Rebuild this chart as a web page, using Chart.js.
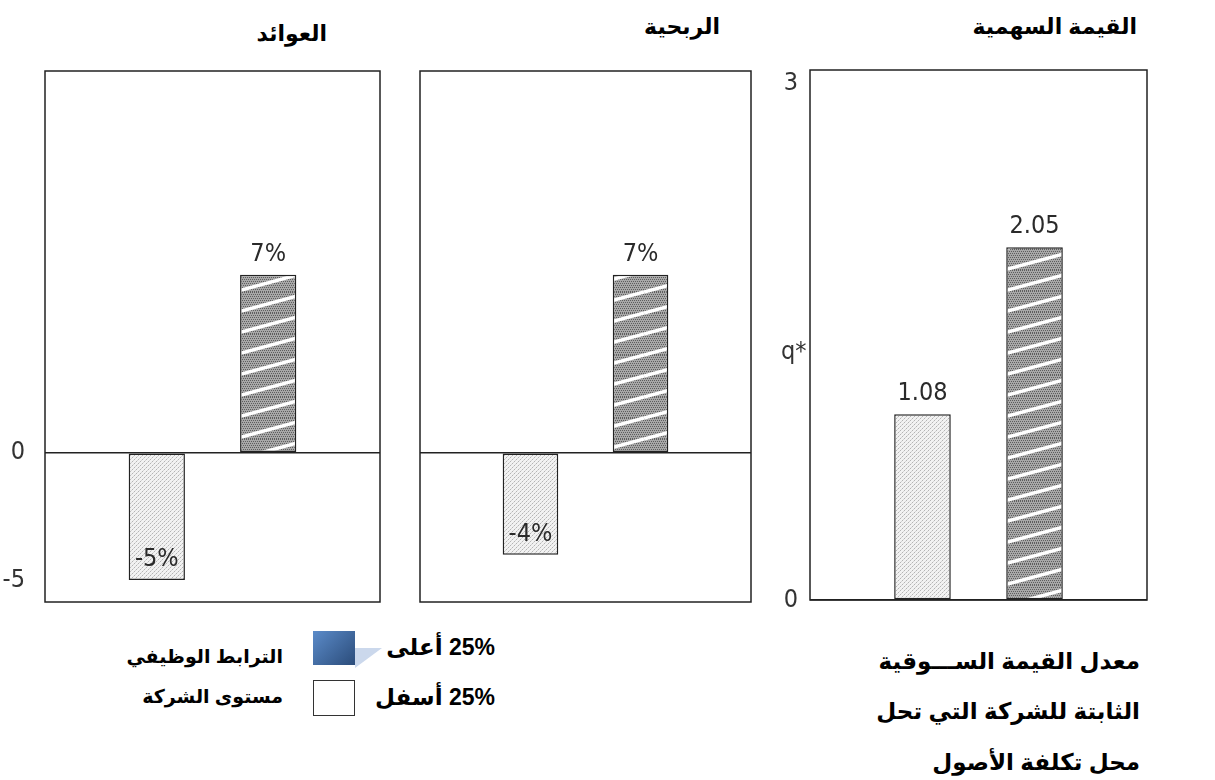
<!DOCTYPE html>
<html lang="ar">
<head>
<meta charset="utf-8">
<script src="https://cdn.jsdelivr.net/npm/chart.js@4/dist/chart.umd.min.js"></script>
<style>
  body { margin: 0; width: 1215px; height: 780px; background: #fff; position: relative; overflow: hidden;
         font-family: "Liberation Sans", "DejaVu Sans", sans-serif; }
  canvas { position: absolute; }
  .t { position: absolute; font-weight: bold; color: #000; direction: rtl; white-space: nowrap; line-height: 1; }
  .title { font-size: 22px; }
  .note { font-size: 19px; }
  .side { font-size: 23px; }
  .leg { font-size: 23px; }
  .box { position: absolute; width: 42px; height: 34px; }
  .qstar { position: absolute; left: 781px; top: 336px; font: 25px "Liberation Sans Narrow", "DejaVu Sans Condensed", sans-serif; color: #333; }
</style>
</head>
<body>
<canvas id="c0" width="390" height="551" style="left:0;top:61px"></canvas>
<canvas id="c1" width="351" height="551" style="left:410px;top:61px"></canvas>
<canvas id="c2" width="387" height="550" style="left:770px;top:60px"></canvas>

<div class="t title" style="right:888px;top:23px">العوائد</div>
<div class="t title" style="right:495px;top:16px">الربحية</div>
<div class="t title" style="right:78px;top:16px">القيمة السهمية</div>
<div class="qstar">q*</div>

<div class="box" style="left:313px;top:631px;background:linear-gradient(135deg,#5b8bc9,#2b4c7a)"></div>
<div class="box" style="left:355px;top:648px;width:27px;height:20px;background:#cbd8ec;clip-path:polygon(0 0,100% 0,0 100%)"></div>
<div class="box" style="left:313px;top:680px;width:40px;height:34px;border:1px solid #333;background:#fff"></div>

<div class="t leg" id="legTop" style="right:720px;top:636px"></div>
<div class="t leg" id="legLow" style="right:720px;top:686px"></div>
<div class="t note" style="right:932px;top:647px">الترابط الوظيفي</div>
<div class="t note" style="right:932px;top:687px">مستوى الشركة</div>

<div class="t side" style="right:75px;top:650px">معدل القيمة الســـوقية</div>
<div class="t side" style="right:75px;top:700px">الثابتة للشركة التي تحل</div>
<div class="t side" style="right:75px;top:751px">محل تكلفة الأصول</div>

<script>
const panels = ['العوائد', 'الربحية', 'القيمة السهمية'];
const seriesNames = ['25% أسفل', '25% أعلى'];
const lowQuartile = [-5, -4, 1.08];
const topQuartile = [7, 7, 2.05];
const tickValues = [[-5, 0], [0], [0, 3]];

document.getElementById('legLow').textContent = seriesNames[0];
document.getElementById('legTop').textContent = seriesNames[1];

const narrow = '"Liberation Sans Narrow", "DejaVu Sans Condensed", sans-serif';

// light stipple for the lower quartile
function lowPattern() {
    const c = document.createElement('canvas');
    c.width = 4; c.height = 4;
    const g = c.getContext('2d');
    g.fillStyle = '#f2f2f2';
    g.fillRect(0, 0, 4, 4);
    g.fillStyle = '#b4b4b4';
    g.fillRect(0, 0, 1, 1);
    g.fillRect(2, 2, 1, 1);
    g.fillStyle = '#d4d4d4';
    g.fillRect(1, 3, 1, 1);
    g.fillRect(3, 1, 1, 1);
    return g.createPattern(c, 'repeat');
}

// dark stipple with white diagonal stripes for the top quartile
function topPattern() {
    const w = 78, h = 21;
    const c = document.createElement('canvas');
    c.width = w; c.height = h;
    const g = c.getContext('2d');
    g.fillStyle = '#a8a8a8';
    g.fillRect(0, 0, w, h);
    g.fillStyle = '#5e5e5e';
    for (let y = 0; y < h; y += 2) {
        for (let x = (y / 2) % 2; x < w; x += 2) g.fillRect(x, y, 1, 1);
    }
    g.strokeStyle = '#ffffff';
    g.lineWidth = 3.5;
    for (let k = -1; k <= 1; k++) {
        g.beginPath();
        g.moveTo(0, h + k * h);
        g.lineTo(w, k * h);
        g.stroke();
    }
    return g.createPattern(c, 'repeat');
}

const frame = {
    id: 'frame',
    afterDraw(chart) {
        const { ctx, chartArea: a } = chart;
        ctx.save();
        ctx.strokeStyle = '#222';
        ctx.lineWidth = 1.5;
        ctx.strokeRect(a.left, a.top, a.right - a.left, a.bottom - a.top);
        ctx.restore();
    }
};

function valueLabels(fmt) {
    return {
        id: 'valueLabels',
        afterDatasetsDraw(chart) {
            const ctx = chart.ctx;
            ctx.save();
            ctx.font = '25px ' + narrow;
            ctx.fillStyle = '#2a2a2a';
            ctx.textAlign = 'center';
            ctx.textBaseline = 'alphabetic';
            chart.data.datasets.forEach((ds, di) => {
                chart.getDatasetMeta(di).data.forEach((bar, j) => {
                    const v = ds.data[j];
                    // positive values sit above the bar, negative ones inside near the end
                    ctx.fillText(fmt(v), bar.x, bar.y - 14);
                });
            });
            ctx.restore();
        }
    };
}

const setup = [
    { id: 'c0', axisW: 45, pad: 20, min: -5.86, max: 15, ticks: true, fmt: v => v + '%' },
    { id: 'c1', axisW: 10, pad: 0, min: -5.86, max: 15, ticks: false, fmt: v => v + '%' },
    { id: 'c2', axisW: 40, pad: 12, min: 0, max: 3.08, ticks: true, fmt: v => v.toFixed(2) }
];

setup.forEach((p, i) => {
    const ctx = document.getElementById(p.id).getContext('2d');
    const bar = { borderColor: '#222', borderWidth: 1.5, borderSkipped: false,
                  categoryPercentage: 0.665, barPercentage: 0.505 };
    new Chart(ctx, {
        type: 'bar',
        data: {
            labels: [panels[i]],
            datasets: [
                Object.assign({ label: seriesNames[0], data: [lowQuartile[i]], backgroundColor: lowPattern() }, bar),
                Object.assign({ label: seriesNames[1], data: [topQuartile[i]], backgroundColor: topPattern() }, bar)
            ]
        },
        options: {
            responsive: false,
            animation: false,
            layout: { padding: { top: 10, right: 10, bottom: 10, left: 0 } },
            plugins: { legend: { display: false }, tooltip: { enabled: false } },
            scales: {
                x: { display: false },
                y: {
                    min: p.min,
                    max: p.max,
                    afterBuildTicks: s => { s.ticks = tickValues[i].map(v => ({ value: v })); },
                    afterFit: s => { s.width = p.axisW; s.paddingTop = 0; s.paddingBottom = 0; },
                    ticks: { display: p.ticks, padding: p.pad, color: '#333', font: { family: narrow, size: 25 } },
                    grid: {
                        drawTicks: false,
                        lineWidth: 1.5,
                        color: c => (c.tick && c.tick.value === 0) ? '#222' : 'rgba(0,0,0,0)'
                    },
                    border: { display: false }
                }
            }
        },
        plugins: [frame, valueLabels(p.fmt)]
    });
});
</script>
</body>
</html>
